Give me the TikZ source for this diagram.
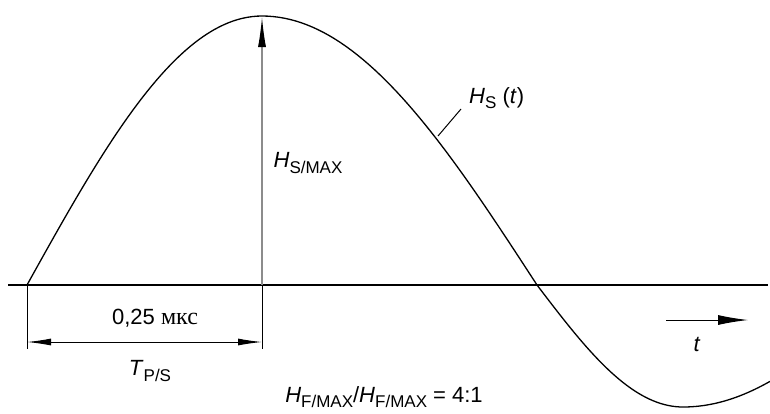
\documentclass[tikz,border=0pt]{standalone}
\usepackage{fontspec}
\setmainfont{Liberation Sans}
\newfontfamily\rmcyr{Liberation Serif}
\usepackage{tikz}
\usetikzlibrary{arrows.meta,positioning,calc}
\newcommand{\lowsub}[1]{\raisebox{-0.25em}{\fontsize{17}{18}\selectfont #1}}

\begin{document}
\begin{tikzpicture}[
    x=1pt, y=-1pt,
    >={Latex[length=24,width=7]},
    wave/.style={line width=1.3pt, black},
    axisline/.style={line width=1.3pt, black},
    dimline/.style={line width=1pt, black},
    ampline/.style={line width=1.2pt, black!45},
    lbl/.style={font=\fontsize{22}{26}\selectfont, inner sep=1pt}
]
\useasboundingbox (0,0) rectangle (770,413);

% reference points
\coordinate (axl) at (8,285);
\coordinate (axr) at (768,285);
\coordinate (st) at (27,285);
\coordinate (pb) at (262,285);
\coordinate (pk) at (262,17);
\coordinate (stb) at (27,349);
\coordinate (pbb) at (262,349);
\coordinate (dl) at (27,342);
\coordinate (dr) at (262,342);

% axis
\draw[axisline] (axl) -- (axr);

% wave
\draw[wave] plot[domain=27:262, samples=50] (\x, {285-269*sin((\x-27)/235*90)})
  -- plot[domain=262:537, samples=50] (\x, {285-269*cos((\x-262)/275*90)})
  -- plot[domain=537:683, samples=40] (\x, {285+122*sin((\x-537)/146*90)})
  -- plot[domain=683:770, samples=30] (\x, {285+122*cos((\x-683)/207*90)});

% amplitude
\draw[ampline, -{Latex[length=30,width=8,color=black]}] (pb) -- (pk);
\node[lbl] (hmax) at (308,163) {\textit{H}\lowsub{S/MAX}};

% dimension
\draw[dimline] (st) -- (stb);
\draw[dimline] (pb) -- (pbb);
\draw[dimline, <->] (dl) -- (dr);
\node[lbl] (dur) at (155,318) {0,25 {\rmcyr\fontsize{24}{26}\selectfont мкс}};
\node[lbl] (tps) at (150,371) {\textit{T}\lowsub{P/S}};

% curve label
\coordinate (ldA) at (438,136);
\coordinate (ldB) at (461,109);
\draw[dimline] (ldA) -- (ldB);
\node[lbl, anchor=west] (hs) at (468,98) {\textit{H}\lowsub{S} (\textit{t})};

% time arrow
\coordinate (ta) at (666,320);
\coordinate (tb) at (748,320);
\draw[dimline, -{Latex[length=30,width=10]}] (ta) -- (tb);
\node[lbl] (tt) at (697,344) {\textit{t}};

% ratio
\node[lbl] (ratio) at (384,397) {\textit{H}\lowsub{F/MAX}/\textit{H}\lowsub{F/MAX} = 4:1};
\end{tikzpicture}
\end{document}
